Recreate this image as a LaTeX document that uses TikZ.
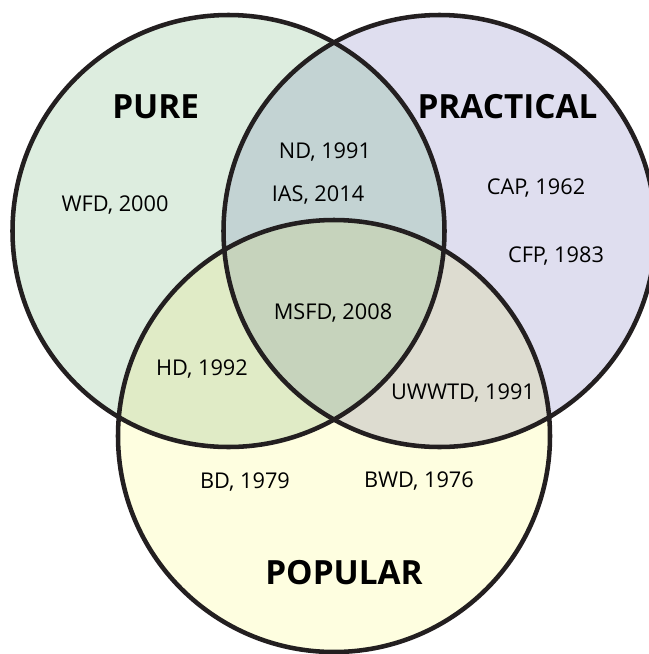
\documentclass[tikz,border=0pt]{standalone}
\usepackage{fontspec}
\setmainfont{Open Sans}
\definecolor{cL}{HTML}{DDEDDF}
\definecolor{cR}{HTML}{DFDEEF}
\definecolor{cB}{HTML}{FEFEE0}
\definecolor{cLR}{HTML}{C3D3D3}
\definecolor{cLB}{HTML}{E0EBC6}
\definecolor{cRB}{HTML}{DDDCD0}
\definecolor{cLRB}{HTML}{C6D3BC}
\definecolor{ring}{HTML}{231F20}
\tikzset{
  item/.style={anchor=base, inner sep=0pt, text=black, font=\fontsize{16.3}{18}\selectfont},
  title/.style={anchor=base, inner sep=0pt, text=black, font=\fontsize{25}{28}\selectfont\bfseries},
  ringline/.style={draw=ring, line width=3.4pt}
}
\begin{document}
\begin{tikzpicture}[x=0.75pt, y=-0.75pt]
\useasboundingbox (0,0) rectangle (649,654);
\clip (0,0) rectangle (649,654);
\coordinate (cl) at (228.5,231);
\coordinate (cr) at (439.5,231);
\coordinate (cb) at (334,436);
\def\rr{162pt}
% single fills
\fill[cL] (cl) circle[radius=\rr];
\fill[cR] (cr) circle[radius=\rr];
\fill[cB] (cb) circle[radius=\rr];
% pairwise
\begin{scope}
  \clip (cl) circle[radius=\rr];
  \fill[cLR] (cr) circle[radius=\rr];
  \fill[cLB] (cb) circle[radius=\rr];
\end{scope}
\begin{scope}
  \clip (cr) circle[radius=\rr];
  \fill[cRB] (cb) circle[radius=\rr];
\end{scope}
\begin{scope}
  \clip (cl) circle[radius=\rr];
  \clip (cr) circle[radius=\rr];
  \fill[cLRB] (cb) circle[radius=\rr];
\end{scope}
% outlines
\draw[ringline] (cl) circle[radius=\rr];
\draw[ringline] (cr) circle[radius=\rr];
\draw[ringline] (cb) circle[radius=\rr];
% titles
\node[title] (pure) at (155.7,118) {PURE};
\node[title] (practical) at (507.5,118) {PRACTICAL};
\node[title] (popular) at (344,584) {POPULAR};
% items
\node[item] (nd) at (325,158.5) {ND, 1991};
\node[item] (ias) at (318,201) {IAS, 2014};
\node[item] (wfd) at (115,211) {WFD, 2000};
\node[item] (cap) at (536,194) {CAP, 1962};
\node[item] (cfp) at (556,262) {CFP, 1983};
\node[item] (msfd) at (333,319.5) {MSFD, 2008};
\node[item] (hd) at (202,375.5) {HD, 1992};
\node[item] (uwwtd) at (463,399.5) {UWWTD, 1991};
\node[item] (bd) at (245,488) {BD, 1979};
\node[item] (bwd) at (419,487) {BWD, 1976};
\end{tikzpicture}
\end{document}
